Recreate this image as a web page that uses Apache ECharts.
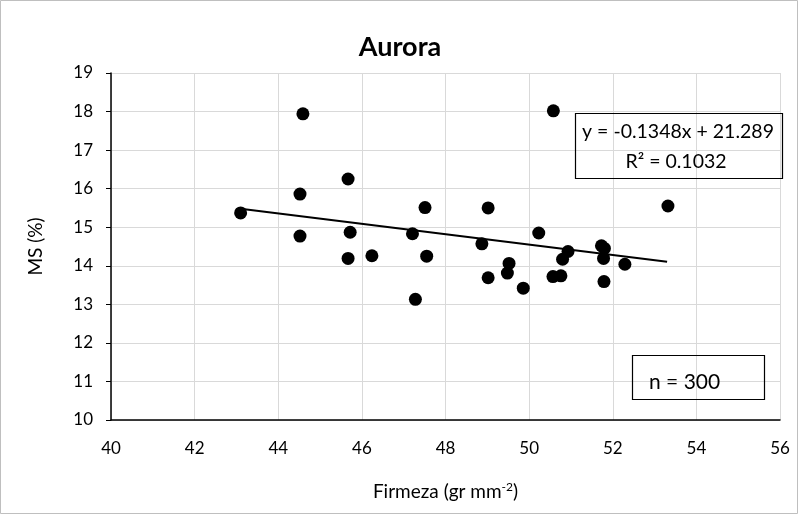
<!DOCTYPE html>
<html><head><meta charset="utf-8">
<script src="https://cdn.jsdelivr.net/npm/echarts@6/dist/echarts.min.js"></script>
<style>html,body{margin:0;padding:0;background:#fff}#c{width:800px;height:515px}</style>
</head><body><div id="c"></div>
<script>
const firmeza = [43.1,44.59,45.67,44.52,47.51,44.52,45.72,47.21,45.67,46.24,47.55,47.28,50.58,53.32,49.02,48.87,50.23,51.73,51.8,50.93,50.8,51.78,52.29,49.52,49.48,49.02,49.86,50.57,50.76,51.79];
const ms = [15.37,17.94,16.25,15.86,15.51,14.77,14.87,14.83,14.19,14.26,14.25,13.13,18.02,15.55,15.50,14.57,14.85,14.52,14.45,14.37,14.17,14.19,14.04,14.06,13.81,13.69,13.42,13.72,13.74,13.59];
const slope = -0.1348, intercept = 21.289;
const trendX = [43.1, 53.3];
const xTicks = [40,42,44,46,48,50,52,54,56];
const yTicks = [10,11,12,13,14,15,16,17,18,19];

const font = 'Lato, "Noto Sans", sans-serif';
const chart = echarts.init(document.getElementById('c'));
chart.setOption({
  animation:false,
  title:{text:'Aurora',left:'center',top:29,textStyle:{fontFamily:font,fontSize:27,fontWeight:'bold',color:'#000'}},
  grid:{left:111,right:20,top:73,bottom:95},
  xAxis:{type:'value',min:xTicks[0],max:xTicks[xTicks.length-1],interval:2,
    axisLine:{lineStyle:{color:'#000',width:1.5}},axisTick:{show:false},
    axisLabel:{fontFamily:font,fontSize:17,color:'#000',margin:20},
    splitLine:{lineStyle:{color:'#d9d9d9',width:1}},
    name:'{a|Firmeza (gr mm}{s|-2}{a|)}',nameLocation:'middle',nameGap:61,
    nameTextStyle:{rich:{a:{fontFamily:font,fontSize:19,color:'#000'},s:{fontFamily:font,fontSize:12,color:'#000',padding:[0,0,9,0]}}}},
  yAxis:{type:'value',min:yTicks[0],max:yTicks[yTicks.length-1],interval:1,
    axisLine:{show:true,lineStyle:{color:'#000',width:1.5}},axisTick:{show:true,length:5,lineStyle:{color:'#000'}},
    axisLabel:{fontFamily:font,fontSize:17,color:'#000',margin:18},
    splitLine:{lineStyle:{color:'#d9d9d9',width:1}},
    name:'MS (%)',nameLocation:'middle',nameGap:66,nameRotate:90,
    nameTextStyle:{fontFamily:font,fontSize:19,color:'#000'}},
  series:[
    {type:'scatter',data:firmeza.map((x,i)=>[x,ms[i]]),symbolSize:13,itemStyle:{color:'#000',opacity:1},z:3},
    {type:'line',data:trendX.map(x=>[x,slope*x+intercept]),symbol:'none',lineStyle:{color:'#000',width:2},z:4}
  ],
  graphic:[
    {type:'rect',shape:{x:0.5,y:0.5,width:797,height:513},style:{fill:'none',stroke:'#bfbfbf',lineWidth:1},silent:true},
    {type:'rect',shape:{x:575.5,y:113.5,width:207,height:65},style:{fill:'none',stroke:'#000',lineWidth:1.2},z:10},
    {type:'text',x:678,y:132,style:{text:'y = -0.1348x + 21.289',fontFamily:font,fontSize:19.5,fill:'#000',align:'center',verticalAlign:'middle'},z:11},
    {type:'text',x:676,y:162,style:{text:'R² = 0.1032',fontFamily:font,fontSize:19.5,fill:'#000',align:'center',verticalAlign:'middle'},z:11},
    {type:'rect',shape:{x:632.5,y:355.5,width:132,height:44},style:{fill:'none',stroke:'#000',lineWidth:1.2},z:10},
    {type:'text',x:649,y:382,style:{text:'n = 300',fontFamily:font,fontSize:21,fill:'#000',align:'left',verticalAlign:'middle'},z:11}
  ]
});
</script></body></html>
